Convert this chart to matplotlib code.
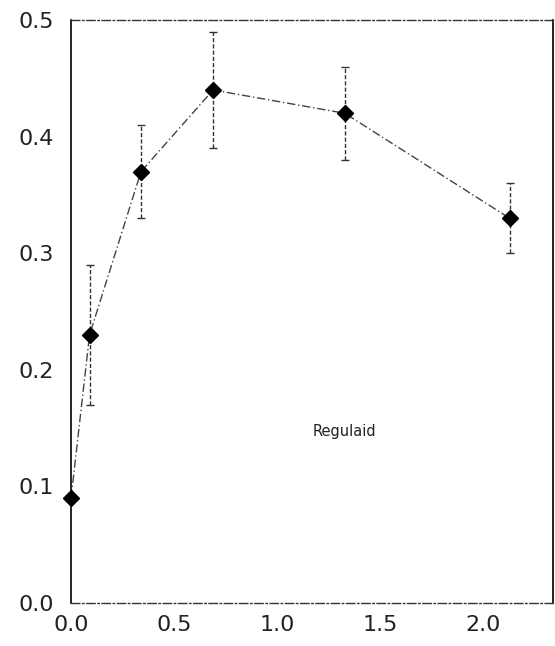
import matplotlib
matplotlib.use("Agg")
import matplotlib.pyplot as plt

x = [0.0, 0.09, 0.34, 0.69, 1.33, 2.13]
y = [0.09, 0.23, 0.37, 0.44, 0.42, 0.33]
y_low = [0.09, 0.17, 0.33, 0.39, 0.38, 0.30]
y_high = [0.09, 0.29, 0.41, 0.49, 0.46, 0.36]
xticks = [0.0, 0.5, 1.0, 1.5, 2.0]
yticks = [0.0, 0.1, 0.2, 0.3, 0.4, 0.5]
label = "Regulaid"

fig = plt.figure(figsize=(5.55, 6.46), dpi=100)
ax = fig.add_axes([0.128, 0.0666, 0.868, 0.9024])

yerr = [[yv - lo for yv, lo in zip(y, y_low)], [hi - yv for yv, hi in zip(y, y_high)]]
eb = ax.errorbar(x, y, yerr=yerr, fmt="none", ecolor="#333333", elinewidth=1.0,
                 capsize=3, capthick=1.0, clip_on=False)
for lc in eb[2]:
    lc.set_linestyle((0, (3, 1.5)))
ax.plot(x, y, color="#444444", lw=1.0, linestyle=(0, (6, 2, 1, 2)), clip_on=False)
ax.plot(x, y, linestyle="none", marker="D", markersize=8.5, color="black", clip_on=False, zorder=5)

ax.text(1.33, 0.147, label, fontsize=10.5, ha="center", va="center", color="#222222")

ax.set_xlim(0, 2.34)
ax.set_ylim(0, 0.5)
ax.set_xticks(xticks)
ax.set_yticks(yticks)
ax.set_xticklabels([f"{v:.1f}" for v in xticks])
ax.set_yticklabels([f"{v:.1f}" for v in yticks])
ax.tick_params(length=0, labelsize=16, colors="#222222")
ax.tick_params(axis="y", pad=12)
ax.tick_params(axis="x", pad=9)
for s in ["top", "bottom"]:
    ax.spines[s].set_linestyle((0, (6, 2, 1, 2)))
    ax.spines[s].set_linewidth(1.0)
    ax.spines[s].set_color("#333333")
for s in ["left", "right"]:
    ax.spines[s].set_linewidth(1.2)
    ax.spines[s].set_color("black")

fig.savefig("out.png", dpi=100)
